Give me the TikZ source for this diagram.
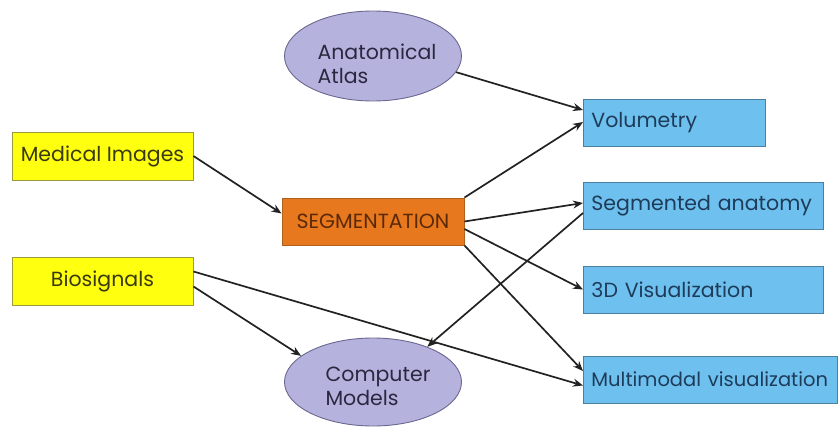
\documentclass[tikz,border=0pt]{standalone}
\usepackage{fontspec}
\setmainfont{Poppins}
\usetikzlibrary{shapes.geometric,arrows.meta,calc}
\definecolor{ylfill}{HTML}{FFFF10}
\definecolor{yldraw}{HTML}{9A9A40}
\definecolor{yltext}{HTML}{3A3A10}
\definecolor{orfill}{HTML}{E8781E}
\definecolor{ordraw}{HTML}{B0601A}
\definecolor{ortext}{HTML}{5A2A08}
\definecolor{blfill}{HTML}{6EC0EE}
\definecolor{bldraw}{HTML}{4A7FA0}
\definecolor{bltext}{HTML}{1E3C5A}
\definecolor{lvfill}{HTML}{B6B2DE}
\definecolor{lvdraw}{HTML}{6A6890}
\definecolor{lvtext}{HTML}{2A2840}
\definecolor{arr}{HTML}{222222}
\tikzset{
  every node/.style={font=\fontsize{20.5}{24}\selectfont},
  ybox/.style={rectangle, draw=yldraw, fill=ylfill, text=yltext, line width=0.9pt,
    minimum width=181pt, minimum height=48pt, inner sep=0pt, align=center},
  obox/.style={rectangle, draw=ordraw, fill=orfill, text=ortext, line width=0.9pt,
    minimum width=182pt, minimum height=47pt, inner sep=0pt, align=center},
  bbox/.style={rectangle, draw=bldraw, fill=blfill, text=bltext, line width=0.9pt,
    minimum height=47pt, inner xsep=8pt, inner ysep=0pt, align=left},
  lell/.style={ellipse, draw=lvdraw, fill=lvfill, line width=0.9pt,
    minimum width=177pt, minimum height=90pt, inner sep=0pt},
  ltext/.style={text=lvtext, inner sep=0pt, align=left},
  conn/.style={draw=arr, line width=1.7pt, -{Stealth[length=10pt,width=8pt]}},
}
\begin{document}
\begin{tikzpicture}[x=1pt,y=-1pt]
\useasboundingbox (0,0) rectangle (839,428);
\node[lell] (atlas) at (373,56) {};
\node[ltext] (atlas-t) at (377,64) {Anatomical\\Atlas};
\node[lell, minimum height=88pt] (comp) at (373,382) {};
\node[ltext] (comp-t) at (378,386) {Computer\\Models};
\node[ybox] (med) at (102.5,156) {Medical Images};
\node[ybox] (bio) at (102.5,281.5) {Biosignals};
\node[obox] (seg) at (373,221.5) {SEGMENTATION};
\node[bbox, text width=166pt, anchor=west] (vol) at (583,123) {Volumetry};
\node[bbox, text width=224pt, anchor=west] (sega) at (583,206) {Segmented anatomy};
\node[bbox, text width=224pt, anchor=west] (vis) at (583,289.5) {3D Visualization};
\node[bbox, text width=238pt, anchor=west] (multi) at (583,379.5) {\mbox{\fontsize{19.5}{24}\selectfont Multimodal visualization}};
\draw[conn] (atlas.-11) -- ([yshift=13pt]vol.west);
\draw[conn] (seg.north east) -- ([yshift=1pt]vol.west);
\draw[conn] (med.east) -- ([yshift=8pt]seg.west);
\draw[conn] (seg.east) -- ([yshift=3pt]sega.west);
\draw[conn] ([yshift=-7pt]sega.west) -- (comp.33);
\draw[conn] ([yshift=-7.5pt]seg.east) -- (vis.west);
\draw[conn] (seg.south east) -- ([yshift=8.5pt]multi.west);
\draw[conn] ([yshift=10pt]bio.east) -- ([yshift=-6pt]multi.west);
\draw[conn] ([yshift=-5pt]bio.east) -- (comp.160);
\end{tikzpicture}
\end{document}
